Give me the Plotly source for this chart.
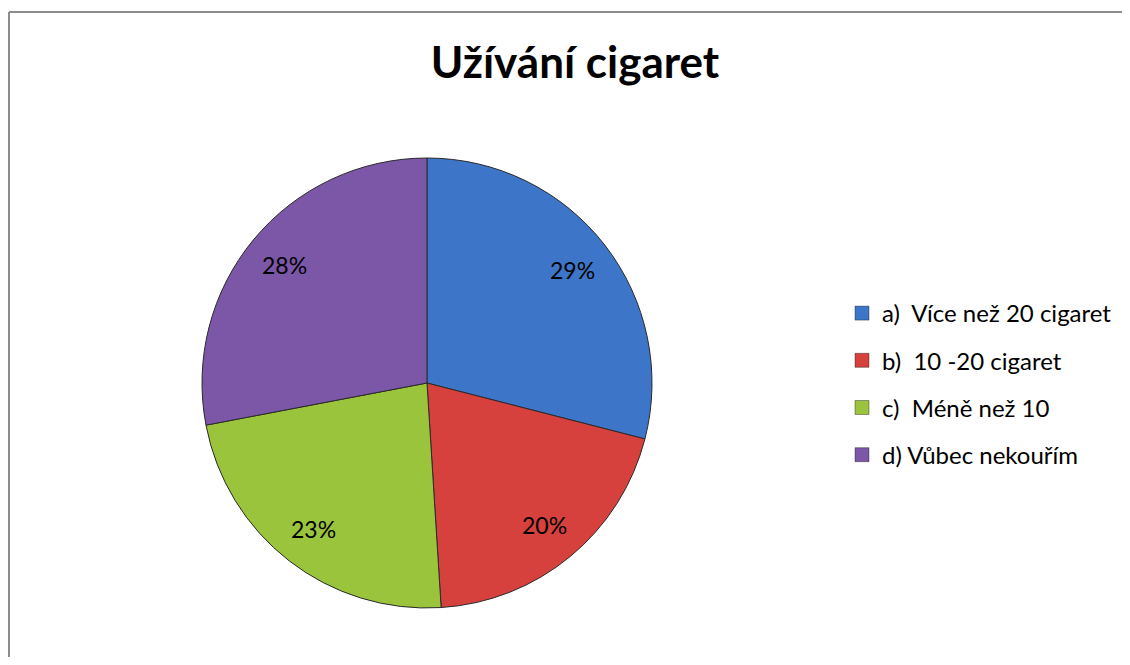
import math
import plotly.graph_objects as go

categories = ["a)  Více než 20 cigaret", "b)  10 -20 cigaret", "c)  Méně než 10", "d) Vůbec nekouřím"]
values = [29, 20, 23, 28]
colors = ["#3D76C8", "#D6413D", "#9BC43D", "#7C56A7"]
title_text = "Užívání cigaret"

OFF = 8  # page body margin
W, H = 1130 - 2 * OFF, 665 - 2 * OFF
cx, cy, R = 427 - OFF, 383 - OFF, 225

fig = go.Figure()
fig.add_trace(go.Pie(
    labels=categories, values=values, sort=False, direction="clockwise", rotation=0,
    marker=dict(colors=colors, line=dict(color="#2a2a2a", width=1)),
    textinfo="none",
    hoverinfo="label+percent", showlegend=False,
    domain=dict(x=[(cx - R) / W, (cx + R) / W], y=[(H - cy - R) / H, (H - cy + R) / H]),
))
for lab, col in zip(categories, colors):
    fig.add_trace(go.Scatter(
        x=[None], y=[None], mode="markers", name=lab, legendgroup=lab,
        marker=dict(symbol="square", size=14, color=col, line=dict(color="rgba(0,0,0,0.35)", width=1)),
    ))

# percentage labels placed at the angular middle of each slice
total = sum(values)
annotations = []
cum = 0
for v in values:
    mid = (cum + v / 2) / total * 2 * math.pi
    cum += v
    r = 0.82 * R
    px = cx + r * math.sin(mid)
    py = cy - r * math.cos(mid)
    annotations.append(dict(
        text=f"{round(v / total * 100)}%", x=px / W, y=1 - py / H, xref="paper", yref="paper",
        showarrow=False, xanchor="center", yanchor="middle",
        font=dict(family="Lato", size=23, color="black"),
    ))

border = dict(color="#8c8c8c", width=2)
fig.update_layout(
    width=W, height=H, margin=dict(l=0, r=0, t=0, b=0),
    paper_bgcolor="white", plot_bgcolor="white",
    title=dict(text=f"<b>{title_text}</b>", x=(575 - OFF) / W, xanchor="center", y=1 - (63 - OFF) / H,
               yanchor="middle", yref="container", font=dict(family="Lato", size=44, color="black")),
    xaxis=dict(visible=False), yaxis=dict(visible=False),
    legend=dict(x=(842 - OFF) / W, xanchor="left", y=1 - (291 - OFF) / H, yanchor="top", tracegroupgap=13,
                font=dict(family="Lato", size=24, color="black"), itemwidth=30, bgcolor="rgba(0,0,0,0)"),
    annotations=annotations,
    shapes=[
        dict(type="line", xref="paper", yref="paper", x0=1 / W, x1=1 / W, y0=0, y1=1 - 4 / H, line=border),
        dict(type="line", xref="paper", yref="paper", x0=1 / W, x1=1, y0=1 - 4 / H, y1=1 - 4 / H, line=border),
    ],
)
fig.write_html("out.html")
